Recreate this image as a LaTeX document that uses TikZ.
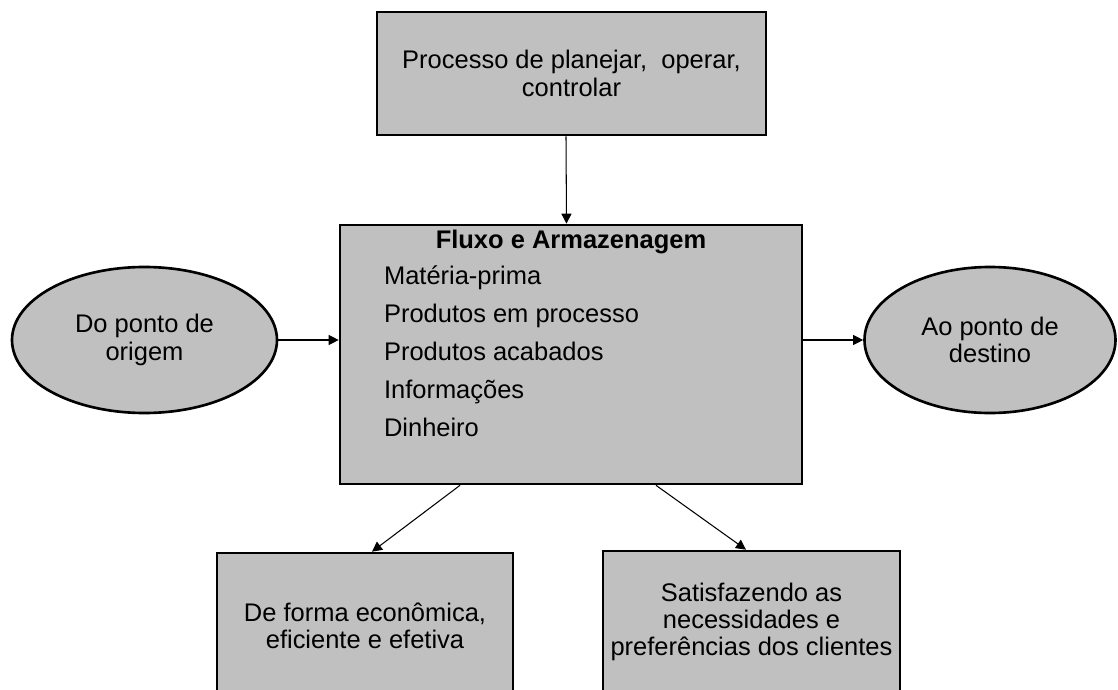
\documentclass[tikz,border=0pt]{standalone}
\usepackage{fontspec}
\setmainfont{Liberation Sans}
\usepackage{xcolor}
\usepackage{tikz}
\usetikzlibrary{positioning, arrows.meta, shapes.geometric}
\definecolor{cinza}{HTML}{C0C0C0}
\tikzset{
    caixa/.style={rectangle, draw=black, line width=1.5pt, fill=cinza, align=center, inner sep=2pt, font=\fontsize{14.5}{15.5}\selectfont},
    elipse/.style={ellipse, draw=black, line width=1.5pt, fill=cinza, align=center, inner sep=0pt, minimum height=2.92cm, font=\fontsize{14.5}{15.5}\selectfont},
    titulo/.style={anchor=base, inner sep=0pt, font=\fontsize{14.5}{15.5}\selectfont\bfseries},
    item/.style={anchor=base west, inner sep=0pt, font=\fontsize{14.5}{15.5}\selectfont},
    arrow/.style={-{Triangle[length=0.2cm, width=0.2cm]}, line width=0.6pt}
}
\begin{document}
\begin{tikzpicture}
        \useasboundingbox (0,0) rectangle (22.36,-13.8);
        % Boxes
        \node[caixa, minimum width=7.78cm, minimum height=2.46cm] (Processo) at (11.43,-1.47) {Processo de planejar,\ \ operar,\\controlar};
        \node[caixa, minimum width=9.24cm, minimum height=5.18cm] (Fluxo) at (11.42,-7.09) {};
        
        % Contents of the main box
        \node[titulo] (Titulo) at ([yshift=-0.5cm]Fluxo.north) {Fluxo e Armazenagem};
        \node[item] (Materia) at ([xshift=0.9cm, yshift=-1.22cm]Fluxo.north west) {Matéria-prima};
        \node[item, below=0.76cm of Materia.base west, anchor=base west] (Processo2) {Produtos em processo};
        \node[item, below=0.76cm of Processo2.base west, anchor=base west] (Acabados) {Produtos acabados};
        \node[item, below=0.76cm of Acabados.base west, anchor=base west] (Info) {Informações};
        \node[item, below=0.76cm of Info.base west, anchor=base west] (Dinheiro) {Dinheiro};
        
        % Origin and destination
        \node[elipse, minimum width=5.3cm] (Origem) at (2.89,-6.8) {Do ponto de\\origem};
        \node[elipse, minimum width=5.02cm] (Destino) at (19.8,-6.8) {Ao ponto de\\destino};
        
        % Outcomes
        \node[caixa, minimum width=5.92cm, minimum height=2.92cm] (Economica) at (7.3,-12.52) {De forma econômica,\\eficiente e efetiva};
        \node[caixa, minimum width=5.94cm, minimum height=2.84cm] (Clientes) at (15.03,-12.44) {Satisfazendo as\\necessidades e\\preferências dos clientes};
        
        % Connections
        \draw[arrow] ([xshift=-0.11cm]Processo.south) -- ([xshift=-0.09cm]Fluxo.north);
        \draw[arrow] (Origem.east) -- (Origem.east -| Fluxo.west);
        \draw[arrow] (Destino.west -| Fluxo.east) -- (Destino.west);
        \draw[arrow] ([xshift=-2.22cm]Fluxo.south) -- ([xshift=0.14cm]Economica.north);
        \draw[arrow] ([xshift=1.7cm]Fluxo.south) -- ([xshift=-0.11cm]Clientes.north);

    \end{tikzpicture}
\end{document}
